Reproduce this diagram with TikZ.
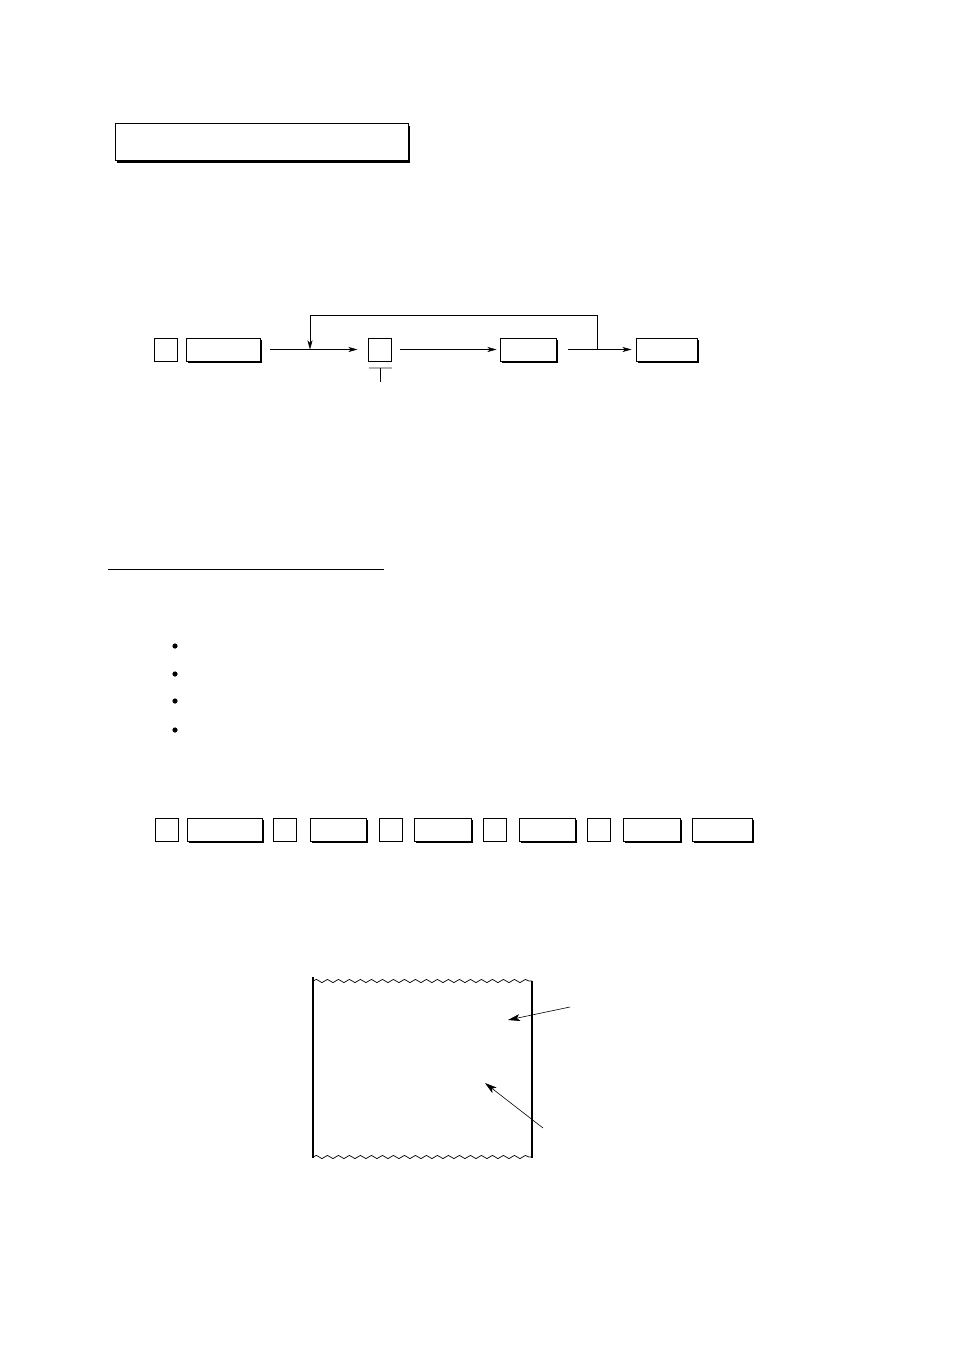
\documentclass[tikz,border=0pt]{standalone}
\usetikzlibrary{arrows.meta,positioning,shadows,decorations.pathmorphing}

\begin{document}
\begin{tikzpicture}
        [x=1pt, y=-1pt,
         lid/.style={draw, line width=0.8pt, fill=white, inner sep=0pt, outer sep=0pt,
                minimum width=23pt, minimum height=23pt},
         keytop/.style={lid, minimum width=#1,
                general shadow={fill=black, shadow xshift=1.6pt, shadow yshift=-1.6pt}},
         flow/.style={-{Stealth[length=9pt, width=5pt, inset=2.5pt]}, semithick},
         pointer/.style={-{Stealth[length=12pt, width=7pt, inset=3pt]}, semithick},
         wavy/.style={decorate, decoration={snake, segment length=11pt, amplitude=1.6pt}, line width=0.7pt}]

        \useasboundingbox (0,0) rectangle (954,1351);

        % heading frame
        \node[keytop=293pt, minimum height=37pt, line width=1pt] (heading) at (261.5,142.5) {};

        % key sequence with repeat loop
        \node[lid] (num) at (166,349.5) {};
        \node[keytop=74pt] (mode) [right=9pt of num] {};
        \node[lid] (digit) [right=108pt of mode] {};
        \node[keytop=56pt] (enter) [right=109pt of digit] {};
        \node[keytop=61pt] (finish) [right=80pt of enter] {};

        \draw[flow, shorten <=9pt, shorten >=11pt] (mode) -- (digit);
        \draw[flow, shorten <=8pt, shorten >=4pt] (digit) -- (enter);
        \draw[flow, shorten <=11pt, shorten >=5pt] (enter) -- (finish);

        \coordinate (split) at (597,349.5);
        \coordinate (join) at (310,349.5);
        \draw[flow] (split) -- ++(0,-34.5) -| (join);

        \draw[gray!60, line width=1.6pt] ([yshift=-7pt]digit.south west) -- ([yshift=-7pt]digit.south east);
        \draw[semithick] ([yshift=-7pt]digit.south) -- ([yshift=-21pt]digit.south);

        % section rule and bullets
        \draw[semithick] (108,569) -- (384,569);
        \foreach \y in {646,674,701,730}
                \fill (175,\y) circle (2.6pt);

        % example key strokes
        \node[lid] (a1) at (166.5,829.5) {};
        \node[keytop=75pt] (b1) [right=9pt of a1] {};
        \node[lid] (a2) [right=11pt of b1] {};
        \node[keytop=56pt] (b2) [right=14pt of a2] {};
        \node[lid] (a3) [right=13pt of b2] {};
        \node[keytop=57pt] (b3) [right=12pt of a3] {};
        \node[lid] (a4) [right=12pt of b3] {};
        \node[keytop=56pt] (b4) [right=13pt of a4] {};
        \node[lid] (a5) [right=12pt of b4] {};
        \node[keytop=57pt] (b5) [right=13pt of a5] {};
        \node[keytop=60pt] (b6) [right=12pt of b5] {};

        % paper strip
        \draw[line width=1.4pt] (313,977) -- (313,1158);
        \draw[line width=1.4pt] (532,981) -- (532,1158);
        \draw[wavy] (313,981) -- (532,981);
        \draw[wavy] (313,1157) -- (532,1157);

        \coordinate (tip1) at (570,1007);
        \coordinate (spot1) at (508,1020);
        \coordinate (tip2) at (543,1128);
        \coordinate (spot2) at (485,1083);
        \draw[pointer] (tip1) -- (spot1);
        \draw[pointer] (tip2) -- (spot2);
\end{tikzpicture}
\end{document}
